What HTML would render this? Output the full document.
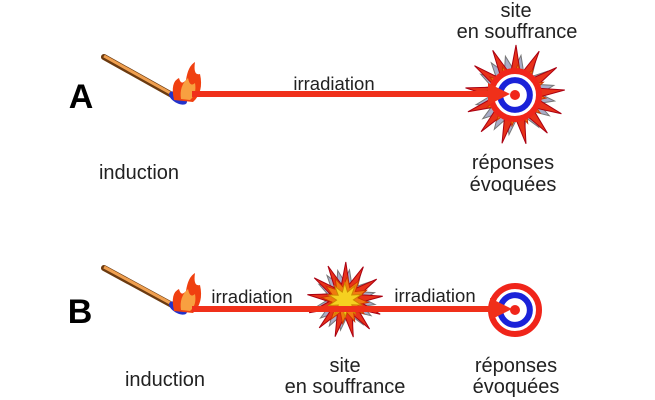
<!DOCTYPE html>
<html><head><meta charset="utf-8"><style>
html,body{margin:0;padding:0;background:#fff;width:655px;height:400px;overflow:hidden}
text{font-family:"Liberation Sans",sans-serif;fill:#222}
</style></head><body>
<svg id="s" width="655" height="400" viewBox="0 0 655 400" xmlns="http://www.w3.org/2000/svg">
<g id="g"></g>
<text x="81" y="108" font-size="34" font-weight="bold" text-anchor="middle" style="fill:#000">A</text>
<text x="80" y="323" font-size="34" font-weight="bold" text-anchor="middle" style="fill:#000">B</text>
<text x="334" y="90" font-size="18.5" text-anchor="middle">irradiation</text>
<text x="139" y="179" font-size="20" text-anchor="middle">induction</text>
<text x="516" y="17" font-size="20" text-anchor="middle">site</text>
<text x="517" y="38" font-size="20" text-anchor="middle">en souffrance</text>
<text x="513" y="169" font-size="20" text-anchor="middle">réponses</text>
<text x="513" y="191" font-size="20" text-anchor="middle">évoquées</text>
<text x="252" y="303" font-size="18.5" text-anchor="middle">irradiation</text>
<text x="435" y="302" font-size="18.5" text-anchor="middle">irradiation</text>
<text x="165" y="386" font-size="20" text-anchor="middle">induction</text>
<text x="345" y="372" font-size="20" text-anchor="middle">site</text>
<text x="345" y="393" font-size="20" text-anchor="middle">en souffrance</text>
<text x="516" y="372" font-size="20" text-anchor="middle">réponses</text>
<text x="516" y="393" font-size="20" text-anchor="middle">évoquées</text>
</svg>
<script>
var g=document.getElementById('g'),h='';
function star(cx,cy,n,r1,r2,rot,fill,stroke){var p=[];for(var i=0;i<2*n;i++){var a=rot+Math.PI*i/n,r=i%2?r2:r1;p.push((cx+r*Math.cos(a)).toFixed(1)+','+(cy+r*Math.sin(a)).toFixed(1));}return '<polygon points="'+p.join(' ')+'" fill="'+fill+'" stroke="'+stroke+'" stroke-width="1"/>';}
function burst(cx,cy,R,inner){return star(cx,cy,16,R*0.8,R*0.5,0.15,'#a9acc8','#777')+star(cx,cy,13,R,R*0.42,-0.1,'#e8321a','#a01')+star(cx,cy,12,R*0.62,R*0.35,0.1,'#f07a10','#c30')+(inner?star(cx,cy,10,R*0.45,R*0.22,0.3,'#f5d020','#c80'):'');}
function target(cx,cy,r){return '<circle cx="'+cx+'" cy="'+cy+'" r="'+(r-3)+'" fill="#fff" stroke="#f0251a" stroke-width="6"/><circle cx="'+cx+'" cy="'+cy+'" r="'+(r*0.55)+'" fill="#fff" stroke="#1a22d8" stroke-width="6"/><circle cx="'+cx+'" cy="'+cy+'" r="5" fill="#f0251a"/>';}
function match(x1,y1,x2,y2,fx,fy){return '<line x1="'+x1+'" y1="'+y1+'" x2="'+x2+'" y2="'+y2+'" stroke="#6b3a10" stroke-width="6" stroke-linecap="round"/><line x1="'+x1+'" y1="'+(y1-1)+'" x2="'+x2+'" y2="'+(y2-1)+'" stroke="#f0a050" stroke-width="3"/>'+
'<ellipse cx="'+(x2+6)+'" cy="'+(y2+3)+'" rx="10" ry="5" fill="#2233cc" transform="rotate(30 '+(x2+6)+' '+(y2+3)+')"/>'+
'<path d="M'+(fx-12)+','+(fy+14)+' Q'+(fx-16)+','+(fy-4)+' '+(fx-7)+','+(fy-8)+' Q'+(fx-5)+','+(fy)+' '+(fx)+','+(fy-6)+' Q'+(fx+2)+','+(fy-20)+' '+(fx+9)+','+(fy-24)+' Q'+(fx+7)+','+(fy-10)+' '+(fx+14)+','+(fy-12)+' Q'+(fx+18)+','+(fy+6)+' '+(fx+7)+','+(fy+16)+' Z" fill="#f04010"/>'+
'<path d="M'+(fx-5)+','+(fy+13)+' Q'+(fx-7)+','+(fy)+' '+(fx+2)+','+(fy-8)+' Q'+(fx+4)+','+(fy+2)+' '+(fx+9)+','+(fy-3)+' Q'+(fx+11)+','+(fy+8)+' '+(fx+4)+','+(fy+14)+' Z" fill="#f8a040"/>';}
function arrow(x1,x2,y){return '<path d="M'+x1+','+y+' L'+(x2-18)+','+y+'" stroke="#f0301a" stroke-width="6" fill="none"/><polygon points="'+(x2-22)+','+(y-11)+' '+x2+','+y+' '+(x2-22)+','+(y+11)+'" fill="#f0301a"/>';}
h+=burst(515,95,50,false)+target(515,95,27)+match(104,57,172,95,186,86)+arrow(192,510,94);
h+=burst(345,300,38,true)+target(515,310,27)+match(104,268,172,305,186,297)+arrow(192,512,309);
g.innerHTML=h;
</script>
</body></html>
